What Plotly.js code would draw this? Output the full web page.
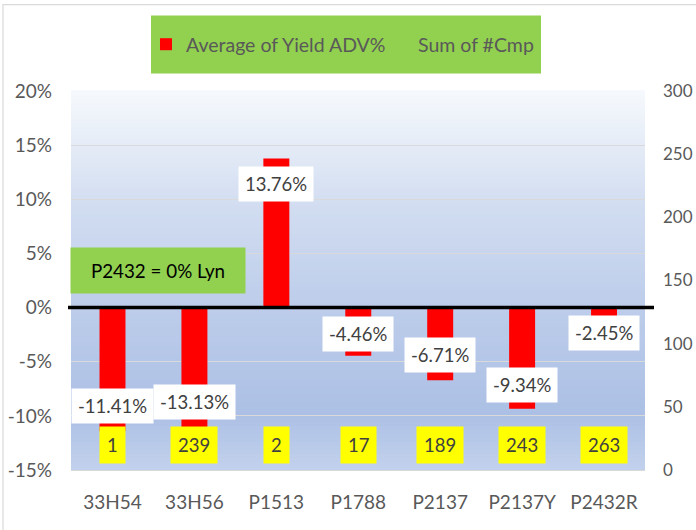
<!DOCTYPE html>
<html>
<head>
<meta charset="utf-8">
<script src="https://cdn.plot.ly/plotly-3.0.1.min.js"></script>
<style>html,body{margin:0;padding:0;background:#fff;}#chart{width:696px;height:530px;}</style>
</head>
<body>
<div id="chart"></div>
<script>
// ---- data ----
var categories = ["33H54", "33H56", "P1513", "P1788", "P2137", "P2137Y", "P2432R"];
var yieldAdv = [-11.41, -13.13, 13.76, -4.46, -6.71, -9.34, -2.45];   // Average of Yield ADV%
var cmpCount = [1, 239, 2, 17, 189, 243, 263];                          // Sum of #Cmp
var yTicks = [-15, -10, -5, 0, 5, 10, 15, 20];
var y2Ticks = [0, 50, 100, 150, 200, 250, 300];
var noteText = "P2432 = 0% Lyn";

// ---- layout helpers (styling only) ----
var W = 696, H = 530;
var L = 71, R = 645, T = 90.5, B = 469.7;
var pw = R - L, ph = B - T;
function px2x(p) { return (p - L) / pw; }
function px2y(p) { return (B - p) / ph; }
var labelShift = [25, 48, -25, 22, 25, 24, 1];   // label box offset from bar end (px)

var FONT = "Lato, 'Open Sans', sans-serif";
var GREY = "#595959";

// gradient plot background
var stops = [[0, [246, 249, 253]], [0.3, [210, 221, 241]], [0.55, [190, 206, 235]], [0.85, [172, 192, 229]], [1, [194, 209, 236]]];
function grad(t) {
  for (var k = 0; k < stops.length - 1; k++) {
    if (t >= stops[k][0] && t <= stops[k + 1][0]) {
      var f = (t - stops[k][0]) / (stops[k + 1][0] - stops[k][0]);
      var a = stops[k][1], b = stops[k + 1][1];
      return "rgb(" + [0, 1, 2].map(function (j) { return Math.round(a[j] + (b[j] - a[j]) * f); }).join(",") + ")";
    }
  }
  return "rgb(194,209,236)";
}
var shapes = [];
var N = 95;
for (var i = 0; i < N; i++) {
  var t = 1 - (i + 0.5) / N;
  shapes.push({type: "rect", xref: "paper", yref: "paper", x0: 0, x1: 1, y0: i / N, y1: (i + 1) / N + 0.002,
    fillcolor: grad(t), line: {width: 0}, layer: "below"});
}
// outer chart border
shapes.push({type: "rect", xref: "paper", yref: "paper", x0: px2x(3), x1: px2x(720), y0: px2y(4), y1: px2y(560),
  fillcolor: "rgba(0,0,0,0)", line: {color: "#D9D9D9", width: 1.2}, layer: "below"});
// legend green box
shapes.push({type: "rect", xref: "paper", yref: "paper", x0: px2x(151), x1: px2x(541), y0: px2y(15), y1: px2y(73),
  fillcolor: "#92D050", line: {width: 0}, layer: "below"});
// zero line
shapes.push({type: "line", xref: "paper", yref: "y", x0: px2x(68), x1: px2x(654), y0: 0, y1: 0,
  line: {color: "#000000", width: 3.5}, layer: "above"});

var annotations = [];
categories.forEach(function (c, i) {
  annotations.push({x: c, y: yieldAdv[i], xref: "x", yref: "y", yshift: labelShift[i],
    text: yieldAdv[i].toFixed(2) + "%", showarrow: false, bgcolor: "#FFFFFF", borderpad: 6,
    font: {family: FONT, size: 18.5, color: "#404040"}, xanchor: "center", yanchor: "middle"});
  annotations.push({x: c, y: px2y(445), xref: "x", yref: "paper",
    text: String(cmpCount[i]), showarrow: false, bgcolor: "#FFFF00", borderpad: 7,
    font: {family: FONT, size: 18.5, color: "#404040"}, xanchor: "center", yanchor: "middle"});
});
annotations.push({x: px2x(158), y: px2y(270.5), xref: "paper", yref: "paper", text: noteText, showarrow: false,
  bgcolor: "#92D050", width: 152, height: 23, borderpad: 11,
  font: {family: FONT, size: 18.8, color: "#000000"}, xanchor: "center", yanchor: "middle"});

var traces = [
  {type: "bar", name: "Average of Yield ADV%", x: categories, y: yieldAdv, yaxis: "y",
    marker: {color: "#FF0000"}, width: 0.317, legend: "legend", hoverinfo: "x+y"},
  {type: "bar", name: "Sum of #Cmp", x: categories, y: cmpCount, yaxis: "y2",
    marker: {color: "rgba(0,0,0,0)"}, width: 0.317, legend: "legend2", hoverinfo: "x+y"}
];

var layout = {
  width: W, height: H,
  margin: {l: L, r: W - R, t: T, b: H - B, autoexpand: false},
  paper_bgcolor: "#FFFFFF", plot_bgcolor: "rgba(0,0,0,0)",
  barmode: "overlay",
  font: {family: FONT, size: 19, color: GREY},
  xaxis: {type: "category", showgrid: false, zeroline: false, showline: true, linecolor: "#D9D9D9", linewidth: 1,
    ticks: "", ticklabelstandoff: 15, tickfont: {family: FONT, size: 19, color: GREY}, fixedrange: true},
  yaxis: {range: [-15, 20], tickvals: yTicks, ticktext: yTicks.map(function (v) { return v + "%"; }),
    showgrid: true, gridcolor: "#D9D9D9", gridwidth: 1.3, zeroline: false, showline: false, ticks: "",
    ticklabelstandoff: 18, tickfont: {family: FONT, size: 19, color: GREY}, fixedrange: true},
  yaxis2: {range: [0, 300], tickvals: y2Ticks, overlaying: "y", side: "right", showgrid: false, zeroline: false,
    showline: false, ticks: "", ticklabelstandoff: 17, tickfont: {family: FONT, size: 17, color: GREY}, fixedrange: true},
  showlegend: true,
  legend: {orientation: "h", x: px2x(146), xanchor: "left", y: px2y(44), yanchor: "middle",
    bgcolor: "rgba(0,0,0,0)", font: {family: FONT, size: 19.5, color: GREY}, itemclick: false},
  legend2: {orientation: "h", x: px2x(378), xanchor: "left", y: px2y(44), yanchor: "middle",
    bgcolor: "rgba(0,0,0,0)", font: {family: FONT, size: 19.5, color: GREY}, itemclick: false},
  shapes: shapes,
  annotations: annotations
};

Plotly.newPlot("chart", traces, layout, {displayModeBar: false, staticPlot: false});
</script>
</body>
</html>
